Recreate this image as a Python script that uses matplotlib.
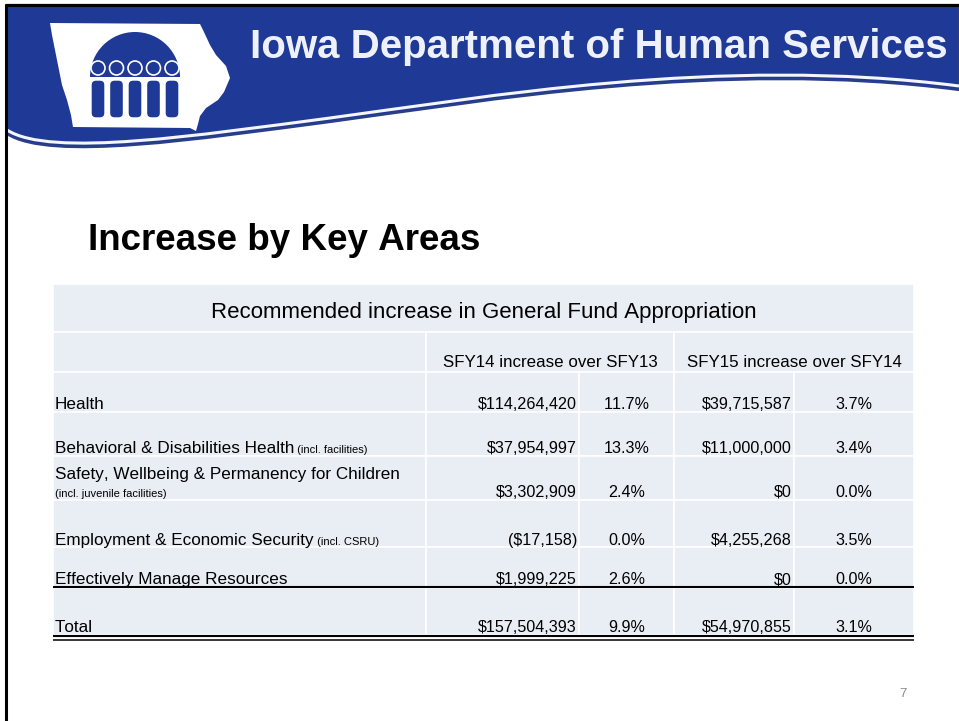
import numpy as np
import matplotlib
matplotlib.use("Agg")
import matplotlib.pyplot as plt
from matplotlib.patches import Rectangle, Polygon, Wedge, Circle, FancyBboxPatch, PathPatch
from matplotlib.path import Path

plt.rcParams["font.family"] = ["Liberation Sans", "DejaVu Sans"]
# the slide was rendered without pair kerning ("11" would otherwise squeeze)
try:
	plt.rcParams["text.kerning_factor"] = 6
except KeyError:
	pass

# ---- table data ----
tableTitle = "Recommended increase in General Fund Appropriation"
periodHeaders = ["SFY14 increase over SFY13", "SFY15 increase over SFY14"]
areas = ["Health",
		 "Behavioral & Disabilities Health",
		 "Safety, Wellbeing & Permanency for Children",
		 "Employment & Economic Security",
		 "Effectively Manage Resources",
		 "Total"]
areaNotes = ["", "(incl. facilities)", "(incl. juvenile facilities)",
			 "(incl. CSRU)", "", ""]
sfy14Amount = [114264420, 37954997, 3302909, -17158, 1999225, 157504393]
sfy14Pct = [11.7, 13.3, 2.4, 0.0, 2.6, 9.9]
sfy15Amount = [39715587, 11000000, 0, 4255268, 0, 54970855]
sfy15Pct = [3.7, 3.4, 0.0, 3.5, 0.0, 3.1]

BLUE = "#1e3a96"
CELL = "#e9edf4"


def money(v):
	# negative values are shown in parentheses
	if v < 0:
		return "(${:,})".format(-v)
	return "${:,}".format(v)


def pct(v):
	return "{:.1f}%".format(v)


fig = plt.figure(figsize=(9.59, 7.21), dpi=100)
ax = fig.add_axes([0, 0, 1, 1])
ax.set_xlim(0, 959)
ax.set_ylim(721, 0)
ax.axis("off")

# ---- banner ----
seg1 = [(7, 134), (50, 162), (200, 139), (330, 122)]
seg2 = [(480, 102), (720, 59), (959, 90)]
curveVerts = seg1 + seg2
curveCodes = [Path.MOVETO] + [Path.CURVE4] * 6
bannerPath = Path(curveVerts + [(959, 5), (7, 5), (7, 134)],
				  curveCodes + [Path.LINETO, Path.LINETO, Path.CLOSEPOLY])
ax.add_patch(PathPatch(bannerPath, facecolor=BLUE, edgecolor="#2b3f86", lw=1.6))
whiteLine = Path([(x, y - 4) for x, y in curveVerts], curveCodes)
ax.add_patch(PathPatch(whiteLine, facecolor="none", edgecolor="#f4f6fc", lw=2.2))

# logo: state outline with dome and five figures
state = [(50, 23), (200, 24), (203, 30), (210, 45), (216, 55), (226, 66),
		 (230, 78), (224, 92), (218, 100), (206, 108), (200, 116), (198, 124),
		 (196, 131), (190, 128), (73, 127), (71, 115), (67, 100), (62, 85),
		 (58, 65), (55, 50), (52, 35)]
ax.add_patch(Polygon(state, closed=True, facecolor="white", edgecolor="none"))
ax.add_patch(Wedge((135, 77), 45, 180, 360, facecolor=BLUE, edgecolor="none"))
for cx in np.linspace(98, 172, 5):
	ax.add_patch(FancyBboxPatch((cx - 7, 80), 14, 38,
								boxstyle="round,pad=0,rounding_size=5",
								facecolor=BLUE, edgecolor="white", lw=1))
	ax.add_patch(Circle((cx, 68), 7, facecolor=BLUE, edgecolor="white", lw=1.2))

ax.text(250, 58, "Iowa Department of Human Services", color="#eef1fa",
		fontsize=29, fontweight="bold", va="baseline", ha="left")

# slide frame (top and left only)
ax.plot([5, 959], [5, 5], color="black", lw=2.2, solid_capstyle="butt")
ax.plot([5.5, 5.5], [4, 721], color="black", lw=2.2, solid_capstyle="butt")

# ---- slide title ----
ax.text(88, 250, "Increase by Key Areas", fontsize=26.5, fontweight="bold",
		va="baseline", ha="left")

# ---- table ----
colEdges = [53, 426, 579, 674, 794, 914]
titleRow = (285, 331)
headerRow = (333, 371)
rowSpans = [(373, 411), (413, 455), (457, 499), (501, 546), (548, 586), (589, 634)]
baselines = [409, 453, 497, 545, 584, 632]


def cell(x0, x1, y0, y1):
	ax.add_patch(Rectangle((x0, y0), x1 - x0, y1 - y0, facecolor=CELL,
						   edgecolor="white", lw=1.2))


cell(colEdges[0], colEdges[-1], titleRow[0] - 1, titleRow[1] + 1)
ax.text((colEdges[0] + colEdges[-1]) / 2, 318, tableTitle, fontsize=16,
		ha="center", va="baseline")

cell(colEdges[0], colEdges[1], headerRow[0] - 1, headerRow[1] + 1)
cell(colEdges[1], colEdges[3], headerRow[0] - 1, headerRow[1] + 1)
cell(colEdges[3], colEdges[5], headerRow[0] - 1, headerRow[1] + 1)
ax.text((colEdges[1] + colEdges[3]) / 2, 367, periodHeaders[0], fontsize=12.2,
		ha="center", va="baseline")
ax.text((colEdges[3] + colEdges[5]) / 2, 367, periodHeaders[1], fontsize=12.2,
		ha="center", va="baseline")

for i, (y0, y1) in enumerate(rowSpans):
	for c in range(5):
		cell(colEdges[c], colEdges[c + 1], y0 - 1, y1 + 1)
	b = baselines[i]
	if areaNotes[i] and len(areas[i]) > 40:
		# long label: note goes on its own line
		ax.text(55, b - 18, areas[i], fontsize=12.3, va="baseline", ha="left")
		ax.text(55, b, areaNotes[i], fontsize=8, va="baseline", ha="left")
	else:
		t = ax.text(55, b, areas[i], fontsize=12.3, va="baseline", ha="left")
		if areaNotes[i]:
			ax.annotate(" " + areaNotes[i], xy=(1, b), xycoords=(t, "data"),
						fontsize=8, va="baseline", ha="left")
	ax.text(colEdges[2] - 2, b, money(sfy14Amount[i]), fontsize=11.6,
			ha="right", va="baseline")
	ax.text((colEdges[2] + colEdges[3]) / 2, b, pct(sfy14Pct[i]), fontsize=11.6,
			ha="center", va="baseline")
	ax.text(colEdges[4] - 2, b, money(sfy15Amount[i]), fontsize=11.6,
			ha="right", va="baseline")
	ax.text((colEdges[4] + colEdges[5]) / 2, b, pct(sfy15Pct[i]), fontsize=11.6,
			ha="center", va="baseline")

# rule above the total, double rule below it
ax.plot([colEdges[0], colEdges[-1]], [587, 587], color="black", lw=1.5,
		solid_capstyle="butt")
ax.plot([colEdges[0], colEdges[-1]], [636, 636], color="black", lw=1.5,
		solid_capstyle="butt")
ax.plot([colEdges[0], colEdges[-1]], [639.5, 639.5], color="black", lw=1.1,
		solid_capstyle="butt")

ax.text(903, 697, "7", fontsize=9.5, color="#8c8c8c", ha="center", va="baseline")

fig.savefig("out.png", dpi=100)
